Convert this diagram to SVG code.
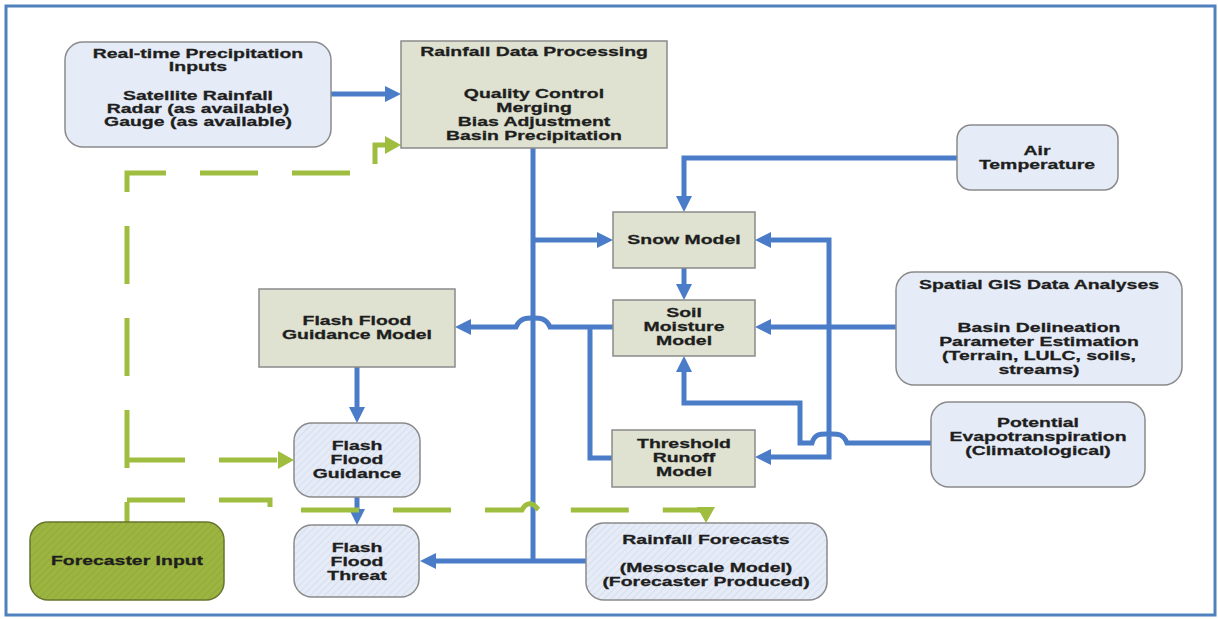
<svg xmlns="http://www.w3.org/2000/svg" width="1218" height="619" viewBox="0 0 1218 619">
<style>
.t{font-family:"Liberation Sans",Arial,sans-serif;font-weight:bold;font-size:13.5px;fill:#1e1e1e;stroke:#1e1e1e;stroke-width:0.3;text-anchor:middle}
.box{fill:#dfe2d0;stroke:#8a8a8a;stroke-width:1.5}
.rb{fill:#e6ecf7;stroke:#8a8a8a;stroke-width:1.5}
.hb{fill:url(#hatch);stroke:#8a8a8a;stroke-width:1.5}
.gb{fill:url(#ghatch);stroke:#66752f;stroke-width:1.5}
.bl{fill:none;stroke:#4a7cc8;stroke-width:5}
.gl{fill:none;stroke:#9fbd3f;stroke-width:5;stroke-dasharray:58 34}
</style>
<defs>
<pattern id="hatch" patternUnits="userSpaceOnUse" width="5" height="5" patternTransform="rotate(45)">
<rect width="5" height="5" fill="#e6ecf7"/>
<line x1="0" y1="0" x2="0" y2="5" stroke="#c7d1e4" stroke-width="1"/>
</pattern>
<pattern id="ghatch" patternUnits="userSpaceOnUse" width="5" height="5" patternTransform="rotate(45)">
<rect width="5" height="5" fill="#9cb440"/>
<line x1="0" y1="0" x2="0" y2="5" stroke="#86a033" stroke-width="1"/>
</pattern>
<marker id="ab" markerUnits="userSpaceOnUse" markerWidth="18" markerHeight="16" refX="6" refY="8" orient="auto">
<path d="M0,0 L16,8 L0,16 Z" fill="#4a7cc8"/>
</marker>
<marker id="ag" markerUnits="userSpaceOnUse" markerWidth="18" markerHeight="18" refX="6" refY="9" orient="auto">
<path d="M0,0 L16,9 L0,18 Z" fill="#9fbd3f"/>
</marker>
</defs>
<rect width="1218" height="619" fill="#ffffff"/>
<rect x="6" y="6" width="1209" height="609" fill="none" stroke="#4f81bd" stroke-width="3"/>

<g id="connectors">
<path class="bl" d="M331,94 H391" stroke-width="4" marker-end="url(#ab)"/>
<path class="bl" d="M533,148 V561"/>
<path class="bl" d="M533,240 H603" marker-end="url(#ab)"/>
<path class="bl" d="M586,561 H430" marker-end="url(#ab)"/>
<path class="bl" d="M957,158 H684 V202" marker-end="url(#ab)"/>
<path class="bl" d="M684,268 V290" marker-end="url(#ab)"/>
<path class="bl" d="M896,327 H765" marker-end="url(#ab)"/>
<path class="bl" d="M829,327 V240 H765" marker-end="url(#ab)"/>
<path class="bl" d="M829,327 V457 H765" marker-end="url(#ab)"/>
<path class="bl" d="M931,443 H847 C843,433 837,434 829,434 C821,434 815,433 812,443 H800 V403 H684 V366" marker-end="url(#ab)"/>
<path class="bl" d="M613,327 H550 C546,318 540,318 533,318 C526,318 520,318 516,327 H465" marker-end="url(#ab)"/>
<path class="bl" d="M590,327 V458 H612"/>
<path class="bl" d="M357,367 V413" marker-end="url(#ab)"/>
<path class="bl" d="M357,497 V515" marker-end="url(#ab)"/>
<path class="gl" d="M127,522 V173 H375 V145 H391" stroke-dashoffset="38" marker-end="url(#ag)"/>
<path class="gl" d="M127,460 H284" marker-end="url(#ag)"/>
<path class="gl" d="M127,500 H270 V510 H522 C526,502 532,502 537,508 C542,514 548,514 552,510 H706 V513" marker-end="url(#ag)"/>
</g>

<g id="realtime">
<rect class="rb" x="65" y="42" width="266" height="105" rx="18"/>
<text class="t" transform="translate(198,0) scale(1.44,1)"><tspan x="0" y="58">Real-time Precipitation</tspan><tspan x="0" y="71">Inputs</tspan><tspan x="0" y="100">Satellite Rainfall</tspan><tspan x="0" y="113">Radar (as available)</tspan><tspan x="0" y="126">Gauge (as available)</tspan></text>
</g>
<g id="rainfall-processing">
<rect class="box" x="401" y="41" width="266" height="107"/>
<text class="t" transform="translate(534,0) scale(1.44,1)"><tspan x="0" y="56">Rainfall Data Processing</tspan><tspan x="0" y="98">Quality Control</tspan><tspan x="0" y="112">Merging</tspan><tspan x="0" y="126">Bias Adjustment</tspan><tspan x="0" y="140">Basin Precipitation</tspan></text>
</g>
<g id="air-temp">
<rect class="rb" x="957" y="125" width="161" height="65" rx="14"/>
<text class="t" transform="translate(1037,0) scale(1.44,1)"><tspan x="0" y="155">Air</tspan><tspan x="0" y="169">Temperature</tspan></text>
</g>
<g id="gis">
<rect class="rb" x="896" y="272" width="286" height="113" rx="18"/>
<text class="t" transform="translate(1039,0) scale(1.44,1)"><tspan x="0" y="289">Spatial GIS Data Analyses</tspan><tspan x="0" y="332">Basin Delineation</tspan><tspan x="0" y="346">Parameter Estimation</tspan><tspan x="0" y="360">(Terrain, LULC, soils,</tspan><tspan x="0" y="374">streams)</tspan></text>
</g>
<g id="pet">
<rect class="rb" x="931" y="402" width="214" height="85" rx="18"/>
<text class="t" transform="translate(1038,0) scale(1.44,1)"><tspan x="0" y="427">Potential</tspan><tspan x="0" y="441">Evapotranspiration</tspan><tspan x="0" y="455">(Climatological)</tspan></text>
</g>
<g id="snow">
<rect class="box" x="613" y="212" width="142" height="56"/>
<text class="t" transform="translate(684,0) scale(1.44,1)"><tspan x="0" y="244">Snow Model</tspan></text>
</g>
<g id="soil">
<rect class="box" x="613" y="300" width="142" height="56"/>
<text class="t" transform="translate(684,0) scale(1.44,1)"><tspan x="0" y="317">Soil</tspan><tspan x="0" y="331">Moisture</tspan><tspan x="0" y="345">Model</tspan></text>
</g>
<g id="threshold">
<rect class="box" x="612" y="430" width="143" height="57"/>
<text class="t" transform="translate(684,0) scale(1.44,1)"><tspan x="0" y="448">Threshold</tspan><tspan x="0" y="462">Runoff</tspan><tspan x="0" y="476">Model</tspan></text>
</g>
<g id="ffg-model">
<rect class="box" x="259" y="289" width="196" height="78"/>
<text class="t" transform="translate(357,0) scale(1.44,1)"><tspan x="0" y="325">Flash Flood</tspan><tspan x="0" y="339">Guidance Model</tspan></text>
</g>
<g id="ffg">
<rect class="hb" x="294" y="423" width="126" height="74" rx="18"/>
<text class="t" transform="translate(357,0) scale(1.44,1)"><tspan x="0" y="450">Flash</tspan><tspan x="0" y="464">Flood</tspan><tspan x="0" y="478">Guidance</tspan></text>
</g>
<g id="fft">
<rect class="hb" x="294" y="525" width="125" height="72" rx="18"/>
<text class="t" transform="translate(357,0) scale(1.44,1)"><tspan x="0" y="552">Flash</tspan><tspan x="0" y="566">Flood</tspan><tspan x="0" y="580">Threat</tspan></text>
</g>
<g id="forecaster">
<rect class="gb" x="30" y="522" width="194" height="78" rx="18"/>
<text class="t" transform="translate(127,0) scale(1.44,1)"><tspan x="0" y="565">Forecaster Input</tspan></text>
</g>
<g id="rainfall-forecasts">
<rect class="hb" x="586" y="523" width="241" height="77" rx="18"/>
<text class="t" transform="translate(706,0) scale(1.44,1)"><tspan x="0" y="544">Rainfall Forecasts</tspan><tspan x="0" y="572">(Mesoscale Model)</tspan><tspan x="0" y="586">(Forecaster Produced)</tspan></text>
</g>
</svg>
